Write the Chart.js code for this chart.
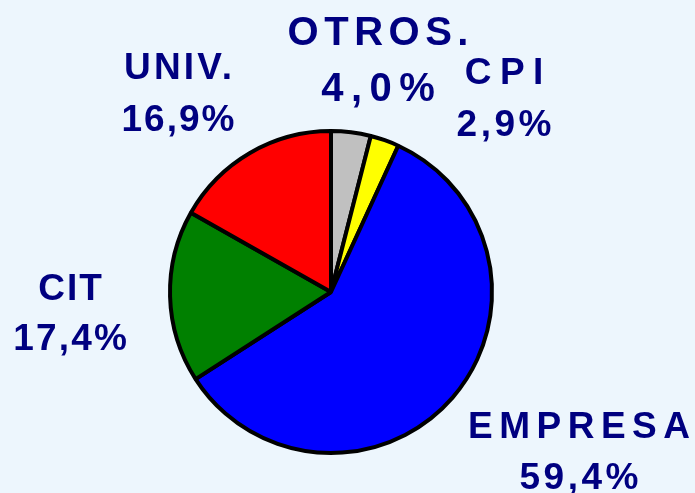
<!DOCTYPE html>
<html>
<head>
<meta charset="utf-8">
<script src="https://cdn.jsdelivr.net/npm/chart.js@4"></script>
<style>
  html, body { margin: 0; padding: 0; background: #EDF6FD; }
  #wrap { width: 695px; height: 493px; }
</style>
</head>
<body>
<div id="wrap"><canvas id="pie"></canvas></div>
<script>
// data, clockwise from 12 o'clock
const categories = ["OTROS.", "CPI", "EMPRESA", "CIT", "UNIV."];
const shares = [4.0, 2.9, 59.4, 17.4, 16.9];
const valueLabels = ["4,0%", "2,9%", "59,4%", "17,4%", "16,9%"];
const sliceColors = ["#C0C0C0", "#FFFF00", "#0000FF", "#008000", "#FF0000"];

// label placement relative to pie centre (first baseline), and type style
const labelSpots = [
  { dx: 47, dy: -247, gap: 56, size: 40, sp: [5.5, 7.5] },
  { dx: 173, dy: -208, gap: 52, size: 37, sp: [8.5, 3.5] },
  { dx: 248, dy: 146, gap: 51, size: 37, sp: [6.5, 3.5] },
  { dx: -261, dy: 8, gap: 50, size: 37, sp: [2, 2.2] },
  { dx: -153, dy: -213, gap: 52, size: 37, sp: [3.2, 2] }
];

const labelPlugin = {
  id: "sliceLabels",
  afterDraw(chart) {
    const ctx = chart.ctx;
    const arc = chart.getDatasetMeta(0).data[0];
    const cx = arc.x, cy = arc.y;
    ctx.save();
    ctx.fillStyle = "#000080";
    ctx.textAlign = "center";
    ctx.textBaseline = "alphabetic";
    categories.forEach((name, i) => {
      const s = labelSpots[i];
      ctx.font = "bold " + s.size + "px 'Liberation Sans', Arial, sans-serif";
      [name, valueLabels[i]].forEach((txt, j) => {
        ctx.letterSpacing = s.sp[j] + "px";
        ctx.fillText(txt, cx + s.dx + s.sp[j] / 2, cy + s.dy + j * s.gap);
      });
    });
    ctx.restore();
  }
};

new Chart(document.getElementById("pie"), {
  type: "pie",
  data: {
    labels: categories,
    datasets: [{
      data: shares,
      backgroundColor: sliceColors,
      borderColor: "#000000",
      borderWidth: 4
    }]
  },
  options: {
    responsive: true,
    maintainAspectRatio: false,
    animation: false,
    layout: { padding: { top: 129, bottom: 38, left: 168, right: 201 } },
    plugins: {
      legend: { display: false },
      tooltip: { enabled: false }
    }
  },
  plugins: [labelPlugin]
});
</script>
</body>
</html>
